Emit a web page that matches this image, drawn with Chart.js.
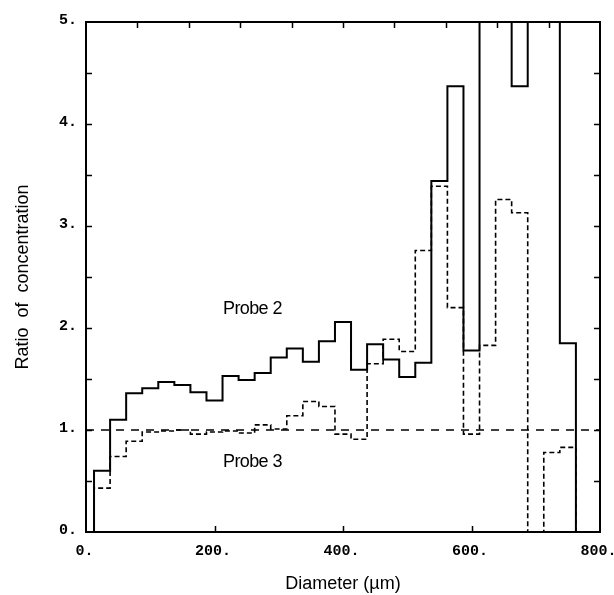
<!DOCTYPE html>
<html>
<head>
<meta charset="utf-8">
<title>Ratio of concentration</title>
<script src="https://cdn.jsdelivr.net/npm/chart.js@4.4.1/dist/chart.umd.min.js"></script>
<style>
  html, body { margin: 0; padding: 0; background: #fff; }
  #wrap { width: 614px; height: 595px; }
</style>
</head>
<body>
<div id="wrap"><canvas id="ratio-chart" width="614" height="595"></canvas></div>
<script>
// bin centres in µm, every bin is 25 µm wide
const binCentres = [25, 50, 75, 100, 125, 150, 175, 200, 225, 250,
                    275, 300, 325, 350, 375, 400, 425, 450, 475, 500,
                    525, 550, 575, 600, 625, 650, 675, 700, 725, 750];
const binWidth = 25;

// anything above 5 runs off the top of the plot
const OFF = 6;

const probe2 = [0.60, 1.10, 1.36, 1.41, 1.47, 1.44, 1.37, 1.29, 1.53, 1.49,
                1.56, 1.71, 1.80, 1.67, 1.87, 2.06, 1.59, 1.84, 1.69, 1.52,
                1.66, 3.44, 4.37, 1.78, OFF, OFF, 4.37, OFF, OFF, 1.85];

const probe3 = [0.43, 0.74, 0.89, 0.98, 0.99, 1.00, 0.96, 0.98, 0.99, 0.97,
                1.05, 1.01, 1.14, 1.28, 1.23, 0.96, 0.91, 1.65, 1.89, 1.77,
                2.76, 3.39, 2.20, 0.96, 1.83, 3.26, 3.13, 0, 0.78, 0.83];

const unity = 1;

const xTicks = [0, 200, 400, 600, 800];
const yTicks = [0, 1, 2, 3, 4, 5];

// small inward marks round the frame
const sideMarks = [0.5, 1, 1.5, 2, 2.5, 3, 3.5, 4, 4.5];
const topMarks = [80, 160, 240, 320, 400, 480, 560, 640, 720];
const bottomMarks = [200, 400, 600];

// turn per-bin values into a closed step outline
function stepPoints(values) {
    const half = binWidth / 2;
    const last = binCentres.length - 1;
    const pts = [{ x: binCentres[0] - half, y: 0 }];
    values.forEach((v, i) => pts.push({ x: binCentres[i] - half, y: v }));
    pts.push({ x: binCentres[last] + half, y: values[last] });
    pts.push({ x: binCentres[last] + half, y: 0 });
    return pts;
}

const monoFont = { family: '"Liberation Mono", "Courier New", monospace', size: 15, weight: 'bold' };
const sansFamily = '"Liberation Sans", Arial, Helvetica, sans-serif';

const frameAndLabels = {
    id: 'frameAndLabels',
    afterDatasetsDraw(chart, args, opts) {
        const { ctx, chartArea: a, scales: { x, y } } = chart;
        ctx.save();
        ctx.strokeStyle = '#000';
        ctx.lineWidth = 2;
        ctx.strokeRect(a.left, a.top, a.right - a.left, a.bottom - a.top);

        ctx.lineWidth = 1.5;
        ctx.beginPath();
        sideMarks.forEach(v => {
            const py = Math.round(y.getPixelForValue(v)) + 0.5;
            ctx.moveTo(a.left, py); ctx.lineTo(a.left + 6, py);
            ctx.moveTo(a.right, py); ctx.lineTo(a.right - 6, py);
        });
        topMarks.forEach(v => {
            const px = Math.round(x.getPixelForValue(v)) + 0.5;
            ctx.moveTo(px, a.top); ctx.lineTo(px, a.top + 6);
        });
        bottomMarks.forEach(v => {
            const px = Math.round(x.getPixelForValue(v)) + 0.5;
            ctx.moveTo(px, a.bottom); ctx.lineTo(px, a.bottom - 6);
        });
        ctx.stroke();

        ctx.fillStyle = '#000';
        ctx.font = '18px ' + sansFamily;
        ctx.letterSpacing = '-0.6px';
        ctx.textAlign = 'center';
        ctx.textBaseline = 'alphabetic';
        opts.labels.forEach(l => {
            ctx.fillText(l.text, x.getPixelForValue(l.x), y.getPixelForValue(l.y));
        });
        ctx.restore();
    }
};

new Chart(document.getElementById('ratio-chart'), {
    type: 'line',
    data: {
        datasets: [
            {
                label: 'Probe 2',
                data: stepPoints(probe2),
                stepped: 'before',
                borderColor: '#000',
                borderWidth: 2,
                pointRadius: 0,
                fill: false
            },
            {
                label: 'Probe 3',
                data: stepPoints(probe3),
                stepped: 'before',
                borderColor: '#000',
                borderWidth: 1.6,
                borderDash: [5, 3],
                pointRadius: 0,
                fill: false
            },
            {
                label: 'ratio 1',
                data: [{ x: xTicks[0], y: unity }, { x: xTicks[xTicks.length - 1], y: unity }],
                borderColor: '#000',
                borderWidth: 1.3,
                borderDash: [8, 7],
                pointRadius: 0,
                fill: false
            }
        ]
    },
    options: {
        responsive: false,
        animation: false,
        layout: { padding: { left: 0, top: 22, right: 14, bottom: 0 } },
        plugins: {
            legend: { display: false },
            tooltip: { enabled: false },
            frameAndLabels: {
                labels: [
                    { text: 'Probe 2', x: 259, y: 2.14 },
                    { text: 'Probe 3', x: 259, y: 0.635 }
                ]
            }
        },
        scales: {
            x: {
                type: 'linear',
                min: 0,
                max: 800,
                afterBuildTicks: s => { s.ticks = xTicks.map(v => ({ value: v })); },
                afterFit: s => { s.height = 63; s.paddingLeft = 0; s.paddingRight = 0; },
                grid: { display: false, drawTicks: false },
                border: { display: false },
                ticks: {
                    color: '#000',
                    font: monoFont,
                    padding: 10,
                    labelOffset: -1.5,
                    maxRotation: 0,
                    callback: v => v + '.'
                },
                title: {
                    display: true,
                    text: 'Diameter (µm)',
                    color: '#000',
                    font: { family: sansFamily, size: 18 },
                    padding: { top: 0, bottom: 0 }
                }
            },
            y: {
                type: 'linear',
                min: 0,
                max: 5,
                afterBuildTicks: s => { s.ticks = yTicks.map(v => ({ value: v })); },
                afterFit: s => { s.width = 86; s.paddingTop = 0; s.paddingBottom = 0; },
                grid: { display: false, drawTicks: false },
                border: { display: false },
                ticks: {
                    color: '#000',
                    font: monoFont,
                    padding: 9,
                    labelOffset: -2,
                    callback: v => v + '.'
                },
                title: {
                    display: true,
                    text: 'Ratio  of  concentration',
                    color: '#000',
                    font: { family: sansFamily, size: 18 },
                    padding: { top: 12, bottom: 0 }
                }
            }
        }
    },
    plugins: [frameAndLabels]
});
</script>
</body>
</html>
